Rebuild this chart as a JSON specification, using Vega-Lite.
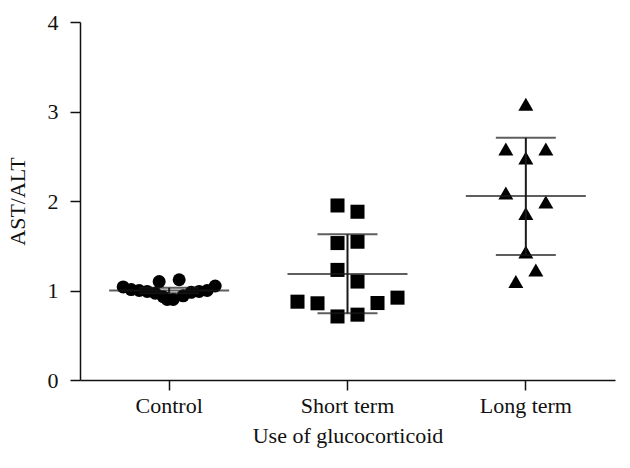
{
  "$schema": "https://vega.github.io/schema/vega-lite/v6.json",
  "autosize": "none",
  "width": 535,
  "height": 358,
  "padding": {"left": 80, "top": 22, "right": 15, "bottom": 88},
  "background": "white",
  "config": {
    "view": {"stroke": null},
    "font": "Liberation Serif",
    "axis": {
      "grid": false,
      "domainColor": "#111111",
      "domainWidth": 1.5,
      "tickColor": "#111111",
      "tickWidth": 1.5,
      "tickSize": 10,
      "labelFont": "Liberation Serif",
      "labelFontSize": 22,
      "labelColor": "#111111",
      "titleFont": "Liberation Serif",
      "titleFontSize": 22,
      "titleFontWeight": "normal",
      "titleColor": "#111111"
    },
    "axisY": {"labelPadding": 12, "titlePadding": 18, "format": "d"},
    "axisX": {"labelPadding": 5, "titlePadding": 9, "labelAngle": 0}
  },
  "datasets": {
    "points": [
      {"group": "Control", "jitter": -4.6, "ratio": 1.04},
      {"group": "Control", "jitter": -3.8, "ratio": 1.01},
      {"group": "Control", "jitter": -3.0, "ratio": 1.00},
      {"group": "Control", "jitter": -2.2, "ratio": 0.99},
      {"group": "Control", "jitter": -1.4, "ratio": 0.97},
      {"group": "Control", "jitter": -1.0, "ratio": 1.10},
      {"group": "Control", "jitter": -0.6, "ratio": 0.93},
      {"group": "Control", "jitter": -0.2, "ratio": 0.90},
      {"group": "Control", "jitter": 0.4, "ratio": 0.90},
      {"group": "Control", "jitter": 1.0, "ratio": 1.12},
      {"group": "Control", "jitter": 1.4, "ratio": 0.94},
      {"group": "Control", "jitter": 2.2, "ratio": 0.98},
      {"group": "Control", "jitter": 3.0, "ratio": 0.99},
      {"group": "Control", "jitter": 3.8, "ratio": 1.00},
      {"group": "Control", "jitter": 4.6, "ratio": 1.05},
      {"group": "Short term", "jitter": -1, "ratio": 1.95},
      {"group": "Short term", "jitter": 1, "ratio": 1.88},
      {"group": "Short term", "jitter": -1, "ratio": 1.53},
      {"group": "Short term", "jitter": 1, "ratio": 1.545},
      {"group": "Short term", "jitter": -1, "ratio": 1.23},
      {"group": "Short term", "jitter": 1, "ratio": 1.10},
      {"group": "Short term", "jitter": -5, "ratio": 0.875},
      {"group": "Short term", "jitter": -3, "ratio": 0.857},
      {"group": "Short term", "jitter": -1, "ratio": 0.71},
      {"group": "Short term", "jitter": 1, "ratio": 0.73},
      {"group": "Short term", "jitter": 3, "ratio": 0.86},
      {"group": "Short term", "jitter": 5, "ratio": 0.92},
      {"group": "Long term", "jitter": 0, "ratio": 3.08},
      {"group": "Long term", "jitter": -2, "ratio": 2.58},
      {"group": "Long term", "jitter": 2, "ratio": 2.58},
      {"group": "Long term", "jitter": 0, "ratio": 2.48},
      {"group": "Long term", "jitter": -2, "ratio": 2.09},
      {"group": "Long term", "jitter": 2, "ratio": 1.99},
      {"group": "Long term", "jitter": 0, "ratio": 1.86},
      {"group": "Long term", "jitter": 0, "ratio": 1.43},
      {"group": "Long term", "jitter": 1, "ratio": 1.23},
      {"group": "Long term", "jitter": -1, "ratio": 1.10}
    ],
    "summary": [
      {"group": "Control", "mean": 1.0, "lo": 0.97, "hi": 1.03},
      {"group": "Short term", "mean": 1.184, "lo": 0.745, "hi": 1.628},
      {"group": "Long term", "mean": 2.056, "lo": 1.397, "hi": 2.707}
    ]
  },
  "encoding": {
    "x": {
      "field": "group",
      "type": "nominal",
      "sort": ["Control", "Short term", "Long term"],
      "scale": {"domain": ["Control", "Short term", "Long term"], "paddingInner": 0, "paddingOuter": 0},
      "title": "Use of glucocorticoid"
    }
  },
  "layer": [
    {
      "data": {"name": "points"},
      "mark": {"type": "point", "filled": true, "opacity": 1, "color": "black", "strokeWidth": 0},
      "encoding": {
        "xOffset": {"field": "jitter", "type": "quantitative", "scale": {"domain": [-6, 6], "range": [29.17, 149.17]}},
        "y": {"field": "ratio", "type": "quantitative", "scale": {"domain": [0, 4], "nice": false}, "axis": {"values": [0, 1, 2, 3, 4]}, "title": "AST/ALT"},
        "shape": {"field": "group", "type": "nominal", "scale": {"domain": ["Control", "Short term", "Long term"], "range": ["circle", "square", "triangle-up"]}, "legend": null},
        "size": {"field": "group", "type": "nominal", "scale": {"domain": ["Control", "Short term", "Long term"], "range": [169, 225, 225]}, "legend": null}
      }
    },
    {
      "data": {"name": "summary"},
      "mark": {"type": "tick", "color": "#1a1a1a", "thickness": 2, "size": 120},
      "encoding": {
        "y": {"field": "mean", "type": "quantitative", "title": "AST/ALT"}
      }
    },
    {
      "data": {"name": "summary"},
      "mark": {"type": "tick", "color": "#1a1a1a", "thickness": 2, "size": 60},
      "encoding": {
        "y": {"field": "lo", "type": "quantitative", "title": "AST/ALT"}
      }
    },
    {
      "data": {"name": "summary"},
      "mark": {"type": "tick", "color": "#1a1a1a", "thickness": 2, "size": 60},
      "encoding": {
        "y": {"field": "hi", "type": "quantitative", "title": "AST/ALT"}
      }
    },
    {
      "data": {"name": "summary"},
      "mark": {"type": "rule", "color": "#1a1a1a", "strokeWidth": 2},
      "encoding": {
        "y": {"field": "lo", "type": "quantitative", "title": "AST/ALT"},
        "y2": {"field": "hi"}
      }
    }
  ]
}
